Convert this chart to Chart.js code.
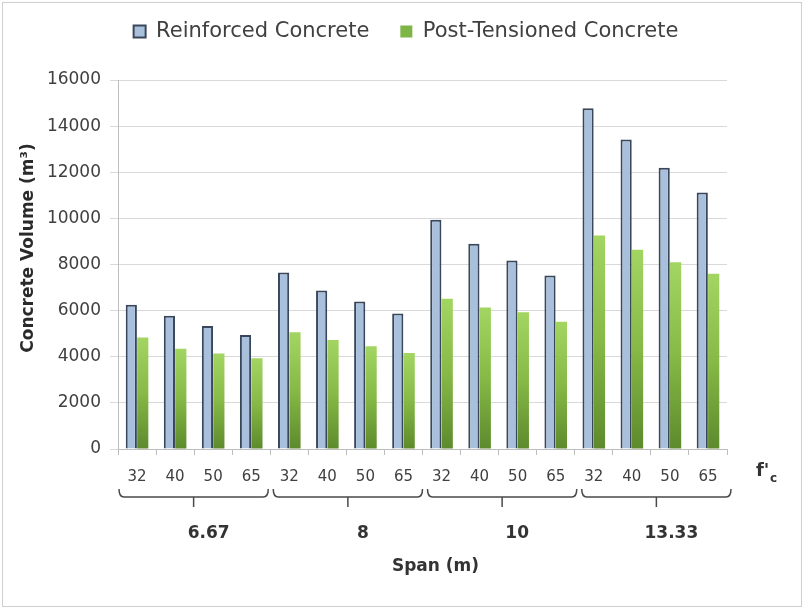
<!DOCTYPE html>
<html>
<head>
<meta charset="utf-8">
<script src="https://cdn.jsdelivr.net/npm/chart.js@4.4.1/dist/chart.umd.min.js"></script>
<style>
  html, body { margin: 0; padding: 0; background: #ffffff; }
  #wrap { width: 806px; height: 611px; position: relative; }
</style>
</head>
<body>
<div id="wrap"><canvas id="chart" width="806" height="611"></canvas></div>
<script>
// Concrete strength f'c (MPa) within each span group
const strengthLabels = ['32', '40', '50', '65', '32', '40', '50', '65', '32', '40', '50', '65', '32', '40', '50', '65'];
// Span groups (m), four strengths each
const spanGroups = ['6.67', '8', '10', '13.33'];
const groupSize = 4;
// Concrete volume (m³)
const reinforced = [6260, 5780, 5330, 4940, 7650, 6870, 6400, 5880, 9940, 8900, 8170, 7520, 14770, 13420, 12200, 11120];
const postTensioned = [4830, 4350, 4140, 3940, 5060, 4730, 4450, 4160, 6510, 6140, 5930, 5520, 9260, 8640, 8100, 7600];
const yTicks = [0, 2000, 4000, 6000, 8000, 10000, 12000, 14000, 16000];

const FONT = '"DejaVu Sans", Verdana, sans-serif';
const TEXT = '#404040';
const BLUE_FILL = '#a9c0dd';
const BLUE_EDGE = '#3a475a';

function greenGradient(ctx) {
  const chart = ctx.chart;
  const area = chart.chartArea;
  if (!area || ctx.raw == null) return '#7db646';
  const y = chart.scales.y.getPixelForValue(ctx.raw);
  const g = chart.ctx.createLinearGradient(0, y, 0, area.bottom);
  g.addColorStop(0, '#a3d562');
  g.addColorStop(0.5, '#86b946');
  g.addColorStop(1, '#5d8a2c');
  return g;
}

// Legend band: fixed height above the plot, items centred on the canvas
const legendBand = {
  id: 'legendBand',
  beforeLayout(chart) {
    const lg = chart.legend;
    if (lg && !lg._bandFit) {
      const fit = lg.fit.bind(lg);
      lg.fit = function () { fit(); this.height = 80; };
      lg._bandFit = true;
    }
  },
  afterLayout(chart) {
    const lg = chart.legend;
    if (!lg) return;
    const dx = (chart.width - (lg.left + lg.right)) / 2 + 3;
    const dy = -10;
    lg.left += dx; lg.right += dx;
    lg.top += dy; lg.bottom += dy;
  }
};

// Braces, span group labels, axis captions and the outer frame
const decorations = {
  id: 'decorations',
  afterDraw(chart) {
    const { ctx, scales: { x }, chartArea } = chart;
    const step = x.getPixelForValue(1) - x.getPixelForValue(0);
    ctx.save();
    ctx.strokeStyle = '#cfcfcf';
    ctx.lineWidth = 1;
    ctx.strokeRect(2.5, 2.5, 799, 604);

    // y axis caption
    ctx.save();
    ctx.translate(29, 248);
    ctx.rotate(-Math.PI / 2);
    ctx.fillStyle = '#2a2a2a';
    ctx.font = 'bold 17px ' + FONT;
    ctx.textAlign = 'center';
    ctx.textBaseline = 'middle';
    ctx.fillText('Concrete Volume (m³)', 0, 0);
    ctx.restore();

    const braceTop = 489, braceMid = 497, spikeEnd = 507;
    ctx.strokeStyle = '#4a4a4a';
    ctx.lineWidth = 1.5;
    ctx.fillStyle = '#333333';
    ctx.textAlign = 'center';
    ctx.textBaseline = 'middle';
    spanGroups.forEach((name, gi) => {
      const first = gi * groupSize;
      const last = first + groupSize - 1;
      const l = x.getPixelForValue(first) - step / 2 + 1 + gi * 2;
      const r = x.getPixelForValue(last) + step / 2 - 2 + gi * 2;
      const c = (l + r) / 2;
      ctx.beginPath();
      ctx.moveTo(l, braceTop);
      ctx.quadraticCurveTo(l, braceMid, l + 5, braceMid);
      ctx.lineTo(r - 5, braceMid);
      ctx.quadraticCurveTo(r, braceMid, r, braceTop);
      ctx.moveTo(c, braceMid);
      ctx.lineTo(c, spikeEnd);
      ctx.stroke();
      ctx.font = 'bold 17px ' + FONT;
      ctx.fillText(name, c + 15, 534);
    });
    ctx.font = 'bold 17px ' + FONT;
    ctx.fillText('Span (m)', (chartArea.left + chartArea.right) / 2 + 13, 567);
    // f'c caption after the strength labels
    ctx.font = 'bold 18px ' + FONT;
    ctx.textAlign = 'left';
    ctx.fillText("f'", 756, 471);
    ctx.font = 'bold 12px ' + FONT;
    ctx.fillText('c', 770, 479);
    ctx.restore();
  }
};

new Chart(document.getElementById('chart'), {
  type: 'bar',
  data: {
    labels: strengthLabels,
    datasets: [
      {
        label: 'Reinforced Concrete',
        data: reinforced,
        backgroundColor: BLUE_FILL,
        borderColor: BLUE_EDGE,
        borderWidth: 2,
        borderSkipped: 'bottom',
        categoryPercentage: 0.6,
        barPercentage: 0.98
      },
      {
        label: 'Post-Tensioned Concrete',
        data: postTensioned,
        backgroundColor: greenGradient,
        borderWidth: 0,
        categoryPercentage: 0.6,
        barPercentage: 0.98
      }
    ]
  },
  options: {
    responsive: false,
    animation: false,
    layout: { padding: { top: 0, right: 79, bottom: 0, left: 0 } },
    plugins: {
      tooltip: { enabled: false },
      legend: {
        position: 'top',
        labels: {
          font: { family: FONT, size: 21 },
          color: TEXT,
          boxWidth: 12,
          boxHeight: 12,
          padding: 31,
          generateLabels() {
            return [
              { text: 'Reinforced Concrete', fillStyle: BLUE_FILL, strokeStyle: BLUE_EDGE, lineWidth: 2, datasetIndex: 0, fontColor: TEXT },
              { text: 'Post-Tensioned Concrete', fillStyle: '#7db646', strokeStyle: '#7db646', lineWidth: 0, datasetIndex: 1, fontColor: TEXT }
            ];
          }
        }
      }
    },
    scales: {
      x: {
        grid: { display: true, drawOnChartArea: false, color: '#bdbdbd', tickLength: 6, offset: true },
        border: { color: '#bdbdbd' },
        ticks: { font: { family: FONT, size: 15 }, color: TEXT, padding: 13, maxRotation: 0, autoSkip: false },
        afterFit(scale) { scale.height = 162; }
      },
      y: {
        min: 0,
        max: 16000,
        afterBuildTicks(scale) { scale.ticks = yTicks.map(v => ({ value: v })); },
        grid: { color: '#d9d9d9', tickLength: 8 },
        border: { color: '#bdbdbd' },
        ticks: {
          font: { family: FONT, size: 17 },
          color: TEXT,
          padding: 9,
          callback: (v) => String(v)
        },
        afterFit(scale) { scale.width = 118; }
      }
    }
  },
  plugins: [legendBand, decorations]
});
</script>
</body>
</html>
